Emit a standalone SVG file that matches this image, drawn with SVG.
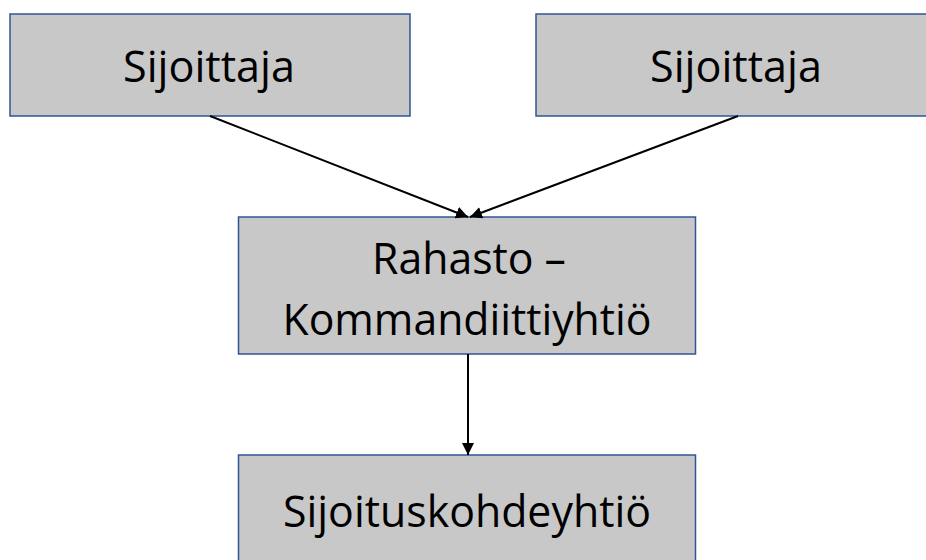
<svg xmlns="http://www.w3.org/2000/svg" width="926" height="560" viewBox="0 0 926 560">
  <style>
    .box { fill: #C8C8C8; stroke: #2F5597; stroke-width: 1.5; }
    .lbl { font-family: "Open Sans", "Liberation Sans", sans-serif; font-size: 43.5px; fill: #000; text-anchor: middle; }
    .edge { stroke: #000; stroke-width: 2; fill: none; marker-end: url(#arrow); }
  </style>
  <defs>
    <marker id="arrow" viewBox="0 0 10 10" refX="10" refY="5" markerWidth="6" markerHeight="6" markerUnits="strokeWidth" orient="auto">
      <path d="M0,0 L10,5 L0,10 z" fill="#000"/>
    </marker>
  </defs>
  <rect width="926" height="560" fill="#fff"/>
  <g id="investor1">
    <rect class="box" x="10" y="14" width="400" height="102"/>
    <text class="lbl" x="209" y="82" textLength="172" lengthAdjust="spacingAndGlyphs">Sijoittaja</text>
  </g>
  <g id="investor2">
    <rect class="box" x="536" y="14" width="400" height="102"/>
    <text class="lbl" x="736" y="82" textLength="172" lengthAdjust="spacingAndGlyphs">Sijoittaja</text>
  </g>
  <g id="fund">
    <rect class="box" x="238.5" y="217" width="457" height="137"/>
    <text class="lbl" x="469" y="274" textLength="194" lengthAdjust="spacingAndGlyphs">Rahasto –</text>
    <text class="lbl" x="467" y="335" textLength="369" lengthAdjust="spacingAndGlyphs">Kommandiittiyhtiö</text>
  </g>
  <g id="target">
    <rect class="box" x="238.5" y="455" width="457" height="120"/>
    <text class="lbl" x="467" y="527" textLength="368" lengthAdjust="spacingAndGlyphs">Sijoituskohdeyhtiö</text>
  </g>
  <g id="connectors">
    <line class="edge" x1="210" y1="116" x2="468" y2="217"/>
    <line class="edge" x1="738" y1="116" x2="470" y2="217"/>
    <line class="edge" x1="468" y1="354" x2="468" y2="455"/>
  </g>
</svg>
